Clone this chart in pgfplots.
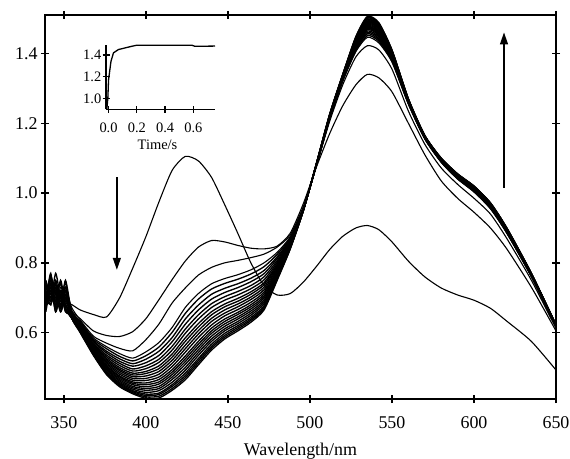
\documentclass[border=0pt]{standalone}
\usepackage{fontspec}
\setmainfont{Liberation Serif}
\usepackage{pgfplots}
\usepackage{pgfplotstable}
\pgfplotsset{compat=1.18}
\usetikzlibrary{arrows.meta}

% absorbance spectra, one column per scan (c1 = first, cF = last)
\pgfplotstableread{
wl  c1    c2    c3    c4    b1    b2    b3    b4    b5    b6    b7    b8    b9    b10   b11   b12   b13   b14   b15   b16   b17   b18   b19   cF
339 0.71  0.69  0.72  0.68  0.70  0.74  0.67  0.71  0.69  0.73  0.66  0.72  0.70  0.68  0.75  0.69  0.71  0.67  0.73  0.70  0.68  0.72  0.69  0.71
342 0.73  0.76  0.70  0.75  0.72  0.69  0.74  0.68  0.77  0.71  0.73  0.69  0.75  0.72  0.70  0.76  0.68  0.74  0.71  0.73  0.69  0.75  0.72  0.70
345 0.70  0.67  0.74  0.71  0.68  0.73  0.69  0.75  0.67  0.70  0.72  0.77  0.66  0.72  0.69  0.71  0.74  0.68  0.70  0.66  0.73  0.69  0.71  0.68
348 0.72  0.73  0.68  0.70  0.75  0.67  0.72  0.69  0.71  0.74  0.67  0.70  0.72  0.67  0.71  0.68  0.66  0.72  0.69  0.71  0.67  0.70  0.66  0.69
351 0.69  0.70  0.72  0.74  0.68  0.71  0.66  0.72  0.69  0.67  0.73  0.68  0.70  0.75  0.67  0.72  0.70  0.66  0.73  0.68  0.71  0.67  0.70  0.72
355 0.68  0.66  0.67  0.66  0.65  0.66  0.65  0.64  0.65  0.64  0.65  0.64  0.66  0.65  0.64  0.65  0.64  0.65  0.64  0.65  0.64  0.64  0.65  0.64
360 0.665 0.640 0.636 0.632 0.629 0.627 0.625 0.622 0.620 0.619 0.617 0.615 0.614 0.612 0.611 0.609 0.608 0.607 0.605 0.604 0.603 0.602 0.601 0.600
368 0.652 0.605 0.590 0.585 0.581 0.577 0.574 0.570 0.567 0.564 0.562 0.559 0.557 0.554 0.552 0.550 0.548 0.546 0.544 0.542 0.540 0.538 0.537 0.535
376 0.645 0.592 0.570 0.560 0.554 0.547 0.542 0.536 0.531 0.526 0.522 0.518 0.514 0.510 0.506 0.503 0.500 0.497 0.494 0.490 0.487 0.485 0.482 0.480
384 0.700 0.589 0.555 0.540 0.532 0.525 0.518 0.512 0.506 0.500 0.495 0.491 0.486 0.481 0.476 0.473 0.469 0.465 0.461 0.457 0.454 0.451 0.448 0.445
392 0.785 0.603 0.548 0.527 0.519 0.511 0.504 0.496 0.490 0.484 0.479 0.474 0.469 0.464 0.459 0.455 0.451 0.446 0.442 0.438 0.434 0.431 0.428 0.425
400 0.875 0.640 0.580 0.545 0.534 0.524 0.514 0.505 0.497 0.489 0.483 0.476 0.469 0.463 0.456 0.451 0.445 0.440 0.435 0.429 0.424 0.420 0.416 0.412
408 0.975 0.695 0.625 0.572 0.559 0.547 0.535 0.524 0.515 0.505 0.497 0.489 0.481 0.473 0.466 0.459 0.453 0.446 0.440 0.434 0.427 0.423 0.418 0.413
416 1.065 0.752 0.685 0.615 0.601 0.586 0.574 0.561 0.550 0.539 0.530 0.521 0.512 0.503 0.494 0.487 0.480 0.473 0.466 0.458 0.451 0.446 0.440 0.435
424 1.105 0.805 0.728 0.672 0.655 0.639 0.624 0.610 0.598 0.585 0.575 0.564 0.554 0.544 0.533 0.525 0.517 0.509 0.500 0.492 0.484 0.477 0.471 0.465
432 1.092 0.845 0.765 0.712 0.696 0.679 0.665 0.651 0.639 0.626 0.616 0.606 0.596 0.586 0.575 0.567 0.559 0.551 0.543 0.535 0.526 0.520 0.514 0.508
440 1.045 0.864 0.787 0.740 0.725 0.710 0.696 0.683 0.672 0.660 0.651 0.641 0.632 0.622 0.613 0.605 0.598 0.590 0.582 0.575 0.567 0.561 0.556 0.550
448 0.967 0.860 0.800 0.755 0.741 0.727 0.715 0.703 0.693 0.682 0.674 0.665 0.656 0.648 0.639 0.632 0.625 0.618 0.611 0.605 0.598 0.592 0.587 0.582
456 0.885 0.850 0.807 0.766 0.753 0.740 0.729 0.718 0.708 0.698 0.690 0.682 0.674 0.666 0.658 0.652 0.645 0.639 0.632 0.626 0.620 0.615 0.610 0.605
464 0.800 0.842 0.815 0.780 0.768 0.756 0.746 0.735 0.726 0.717 0.710 0.702 0.695 0.687 0.680 0.674 0.668 0.662 0.656 0.650 0.644 0.639 0.635 0.630
472 0.735 0.840 0.825 0.800 0.789 0.778 0.769 0.760 0.751 0.743 0.737 0.730 0.723 0.716 0.710 0.704 0.699 0.693 0.688 0.683 0.677 0.673 0.669 0.665
480 0.708 0.848 0.845 0.830 0.824 0.817 0.812 0.806 0.801 0.796 0.792 0.788 0.784 0.780 0.776 0.773 0.770 0.767 0.764 0.760 0.757 0.755 0.752 0.750
488 0.712 0.885 0.880 0.875 0.872 0.869 0.867 0.865 0.862 0.860 0.859 0.857 0.855 0.853 0.852 0.850 0.849 0.847 0.846 0.845 0.843 0.842 0.841 0.840
496 0.745 0.970 0.962 0.955 0.955 0.954 0.954 0.954 0.953 0.953 0.953 0.952 0.952 0.952 0.952 0.951 0.951 0.951 0.951 0.951 0.950 0.950 0.950 0.950
504 0.790 1.075 1.080 1.080 1.080 1.081 1.081 1.082 1.082 1.082 1.082 1.083 1.083 1.083 1.083 1.084 1.084 1.084 1.084 1.084 1.085 1.085 1.085 1.085
512 0.838 1.170 1.205 1.210 1.211 1.212 1.213 1.215 1.215 1.216 1.217 1.218 1.219 1.219 1.220 1.221 1.221 1.222 1.222 1.223 1.224 1.224 1.225 1.225
520 0.876 1.250 1.310 1.320 1.322 1.323 1.325 1.326 1.327 1.328 1.329 1.330 1.331 1.332 1.333 1.334 1.335 1.336 1.337 1.337 1.338 1.339 1.339 1.340
528 0.900 1.310 1.390 1.405 1.408 1.412 1.415 1.418 1.421 1.423 1.425 1.427 1.430 1.432 1.434 1.436 1.437 1.439 1.441 1.442 1.444 1.445 1.447 1.448
535 0.907 1.340 1.422 1.446 1.451 1.456 1.460 1.464 1.468 1.471 1.474 1.477 1.480 1.483 1.486 1.489 1.491 1.493 1.496 1.498 1.501 1.502 1.504 1.506
542 0.895 1.330 1.410 1.430 1.435 1.439 1.443 1.447 1.451 1.454 1.457 1.460 1.463 1.466 1.469 1.471 1.474 1.476 1.478 1.480 1.483 1.484 1.486 1.488
550 0.860 1.290 1.355 1.375 1.378 1.381 1.383 1.386 1.388 1.390 1.391 1.393 1.395 1.397 1.398 1.400 1.401 1.403 1.404 1.405 1.407 1.408 1.409 1.410
560 0.805 1.200 1.235 1.255 1.256 1.257 1.258 1.260 1.260 1.261 1.262 1.263 1.264 1.264 1.265 1.266 1.266 1.267 1.267 1.268 1.269 1.269 1.270 1.270
570 0.760 1.110 1.140 1.155 1.156 1.157 1.157 1.158 1.159 1.159 1.160 1.160 1.161 1.161 1.162 1.162 1.163 1.163 1.163 1.164 1.164 1.164 1.165 1.165
580 0.728 1.035 1.072 1.088 1.089 1.090 1.091 1.092 1.092 1.093 1.094 1.094 1.095 1.095 1.096 1.097 1.097 1.098 1.098 1.098 1.099 1.099 1.100 1.100
590 0.708 0.985 1.025 1.040 1.041 1.042 1.043 1.045 1.045 1.046 1.047 1.048 1.049 1.049 1.050 1.051 1.051 1.052 1.052 1.053 1.054 1.054 1.055 1.055
600 0.693 0.945 0.985 1.003 1.004 1.006 1.007 1.008 1.009 1.010 1.011 1.012 1.013 1.014 1.014 1.015 1.016 1.016 1.017 1.018 1.019 1.019 1.020 1.020
610 0.670 0.900 0.940 0.955 0.956 0.958 0.959 0.960 0.961 0.962 0.963 0.964 0.965 0.966 0.966 0.967 0.968 0.968 0.969 0.970 0.971 0.971 0.972 0.972
620 0.633 0.840 0.870 0.885 0.886 0.887 0.888 0.890 0.890 0.891 0.892 0.893 0.894 0.894 0.895 0.896 0.896 0.897 0.897 0.898 0.899 0.899 0.900 0.900
635 0.575 0.730 0.750 0.760 0.761 0.762 0.762 0.763 0.764 0.764 0.765 0.765 0.766 0.766 0.767 0.767 0.768 0.768 0.768 0.769 0.769 0.769 0.770 0.770
650 0.493 0.605 0.612 0.617 0.617 0.618 0.618 0.619 0.619 0.619 0.619 0.620 0.620 0.620 0.620 0.621 0.621 0.621 0.621 0.621 0.622 0.622 0.622 0.622
}\spectra

\begin{document}
\begin{tikzpicture}
\begin{axis}[
    at={(0,0)}, anchor=south west,
    scale only axis,
    width=511bp, height=384bp,
    xmin=338.5, xmax=650,
    ymin=0.41, ymax=1.51,
    xtick={350,400,...,650},
    ytick={0.6,0.8,1.0,1.2,1.4},
    tick align=center,
    major tick length=8bp,
    axis line style={line width=1.3bp},
    every tick/.style={black, line width=1.3bp},
    /pgf/number format/assume math mode=true,
    ticklabel style={font=\fontsize{18}{18}\selectfont},
    xticklabel style={yshift=-10bp},
    yticklabel style={/pgf/number format/.cd, fixed, fixed zerofill, precision=1},
    xlabel={Wavelength/nm},
    xlabel style={font=\fontsize{18}{18}\selectfont, at={(axis description cs:0.5,0)}, anchor=base, yshift=-56bp},
]
% first scans drawn thinner, later scans pile up into the dark band
\pgfplotsinvokeforeach{1,...,4}{
    \addplot[black, line width=1.1bp, smooth, tension=0.4] table[x index=0, y index=#1] {\spectra};
}
\pgfplotsinvokeforeach{5,...,24}{
    \addplot[black, line width=1.35bp, smooth, tension=0.4] table[x index=0, y index=#1] {\spectra};
}
\draw[line width=1.3bp, -{Triangle[length=12bp, width=8bp]}] (axis cs:382.3,1.045) -- (axis cs:382.3,0.78);
\draw[line width=1.3bp, -{Triangle[length=12bp, width=8bp]}] (axis cs:618.3,1.015) -- (axis cs:618.3,1.46);
\end{axis}

% inset: kinetic trace
\begin{axis}[
    at={(61bp,289.7bp)}, anchor=south west,
    scale only axis,
    width=109bp, height=64.3bp,
    xmin=-0.018, xmax=0.753,
    ymin=0.899, ymax=1.492,
    axis x line*=bottom, axis y line*=left,
    clip=false,
    xtick={0,0.2,0.4,0.6},
    ytick={1.0,1.2,1.4},
    tick align=center,
    major tick length=7bp,
    axis line style={line width=1.3bp},
    every tick/.style={black, line width=1.3bp},
    /pgf/number format/assume math mode=true,
    ticklabel style={font=\fontsize{14.5}{14.5}\selectfont},
    xticklabel style={yshift=-7bp, /pgf/number format/.cd, fixed, fixed zerofill, precision=1},
    yticklabel style={inner sep=1bp, /pgf/number format/.cd, fixed, fixed zerofill, precision=1},
    xlabel={Time/s},
    xlabel style={font=\fontsize{14.5}{14.5}\selectfont, at={(axis description cs:0.5,0)}, anchor=base, yshift=-40bp, xshift=-3bp},
]
\addplot[black, line width=1.3bp] coordinates {
    (-0.012,0.90) (-0.005,1.00) (0.0,1.17) (0.017,1.34) (0.035,1.42) (0.07,1.45)
    (0.117,1.465) (0.164,1.48) (0.2,1.49) (0.59,1.49) (0.61,1.48) (0.753,1.482)
};
\end{axis}

\pgfresetboundingbox
\path[use as bounding box] (-45bp,-60bp) rectangle (525bp,399bp);
\end{tikzpicture}
\end{document}
